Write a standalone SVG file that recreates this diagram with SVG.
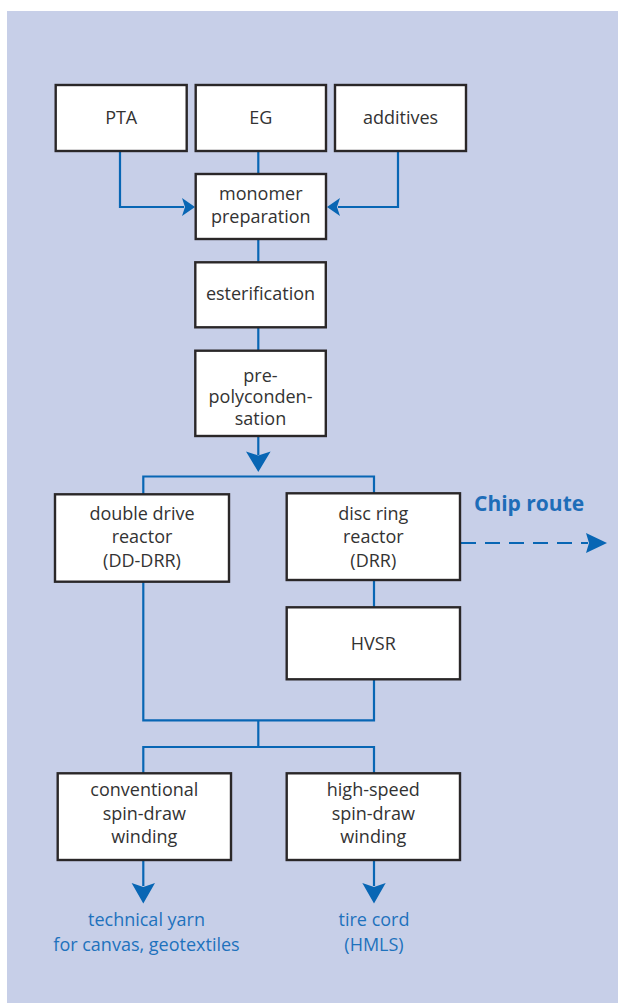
<svg xmlns="http://www.w3.org/2000/svg" width="618" height="1003" viewBox="0 0 618 1003">
<style>
.bg{fill:#c7cfe8}
.box{fill:#ffffff;stroke:#2a2728;stroke-width:2.4}
.lbl{font-family:"Open Sans","Noto Sans",sans-serif;font-size:18px;fill:#333333;text-anchor:middle}
.out{font-family:"Open Sans","Noto Sans",sans-serif;font-size:18px;fill:#1e72bd;text-anchor:middle}
.chip{font-family:"Open Sans","Noto Sans",sans-serif;font-size:21px;font-weight:bold;fill:#1e6db8}
.ln{fill:none;stroke:#0866b4;stroke-width:2.2}
.dash{stroke-dasharray:15 9}
.ah{fill:#0866b4}
</style>
<rect class="bg" x="7" y="11" width="611" height="992"/>
<g id="connectors">
<path class="ln" d="M258.3 151 V174"/>
<path class="ln" d="M120 151 V207 H184"/>
<path class="ah" d="M195 207 L182 198 L185 207 L182 216 Z"/>
<path class="ln" d="M398 151 V207 H338"/>
<path class="ah" d="M327 207 L340 198 L337 207 L340 216 Z"/>
<path class="ln" d="M258.3 239 V262"/>
<path class="ln" d="M258.3 327 V351"/>
<path class="ln" d="M258.3 436 V455"/>
<path class="ah" d="M258.3 472 L246 451.5 L258.3 455.5 L270.6 451.5 Z"/>
<path class="ln" d="M143.3 494 V476.5 H374 V494"/>
<path class="ln" d="M374 580 V607"/>
<path class="ln" d="M143.3 581.7 V720.3 H374 V679"/>
<path class="ln" d="M258.3 720.3 V747"/>
<path class="ln" d="M143.3 773 V747 H374 V773"/>
<path class="ln" d="M143.3 860 V886"/>
<path class="ah" d="M143.3 903.5 L131.6 883 L143.3 887 L155 883 Z"/>
<path class="ln" d="M374 860 V886"/>
<path class="ah" d="M374 903.5 L362.3 883 L374 887 L385.7 883 Z"/>
<path class="ln dash" d="M461 543 H588"/>
<path class="ah" d="M607 543 L586 533 L589 543 L586 553 Z"/>
</g>
<g id="n-pta"><rect class="box" x="55.7" y="85" width="131" height="66"/><text class="lbl" x="121.2" y="124">PTA</text></g>
<g id="n-eg"><rect class="box" x="195.7" y="85" width="130.3" height="66"/><text class="lbl" x="260.8" y="124">EG</text></g>
<g id="n-additives"><rect class="box" x="335" y="85" width="131" height="66"/><text class="lbl" x="400.5" y="124">additives</text></g>
<g id="n-monomer"><rect class="box" x="195.7" y="174" width="130.3" height="65"/><text class="lbl" x="260.8" y="200">monomer</text><text class="lbl" x="260.8" y="223">preparation</text></g>
<g id="n-ester"><rect class="box" x="195.3" y="262.3" width="130.5" height="65"/><text class="lbl" x="260.5" y="300">esterification</text></g>
<g id="n-prepoly"><rect class="box" x="195.3" y="350.7" width="130.5" height="85.3"/><text class="lbl" x="260.5" y="381.5">pre-</text><text class="lbl" x="260.5" y="403.3">polyconden-</text><text class="lbl" x="260.5" y="425">sation</text></g>
<g id="n-dd"><rect class="box" x="55" y="494.3" width="174" height="87.4"/><text class="lbl" x="142" y="520">double drive</text><text class="lbl" x="142" y="543.3">reactor</text><text class="lbl" x="142" y="566.7">(DD-DRR)</text></g>
<g id="n-drr"><rect class="box" x="286.7" y="493.3" width="173.3" height="86.7"/><text class="lbl" x="373.3" y="520">disc ring</text><text class="lbl" x="373.3" y="543.3">reactor</text><text class="lbl" x="373.3" y="566.7">(DRR)</text></g>
<g id="n-hvsr"><rect class="box" x="286.7" y="607.3" width="173.3" height="72"/><text class="lbl" x="373.3" y="649.5">HVSR</text></g>
<g id="n-conv"><rect class="box" x="57.7" y="773.3" width="173.3" height="86.7"/><text class="lbl" x="144.3" y="796">conventional</text><text class="lbl" x="144.3" y="819.5">spin-draw</text><text class="lbl" x="144.3" y="843.3">winding</text></g>
<g id="n-hs"><rect class="box" x="286.7" y="773.3" width="173.3" height="86.7"/><text class="lbl" x="373.3" y="796">high-speed</text><text class="lbl" x="373.3" y="819.5">spin-draw</text><text class="lbl" x="373.3" y="843.3">winding</text></g>
<g id="n-yarn"><text class="out" x="146.5" y="925.7">technical yarn</text><text class="out" x="146.5" y="950.7">for canvas, geotextiles</text></g>
<g id="n-tire"><text class="out" x="374" y="925.7">tire cord</text><text class="out" x="374" y="950.7">(HMLS)</text></g>
<g id="n-chip"><text class="chip" x="474" y="510.7">Chip route</text></g>
</svg>
